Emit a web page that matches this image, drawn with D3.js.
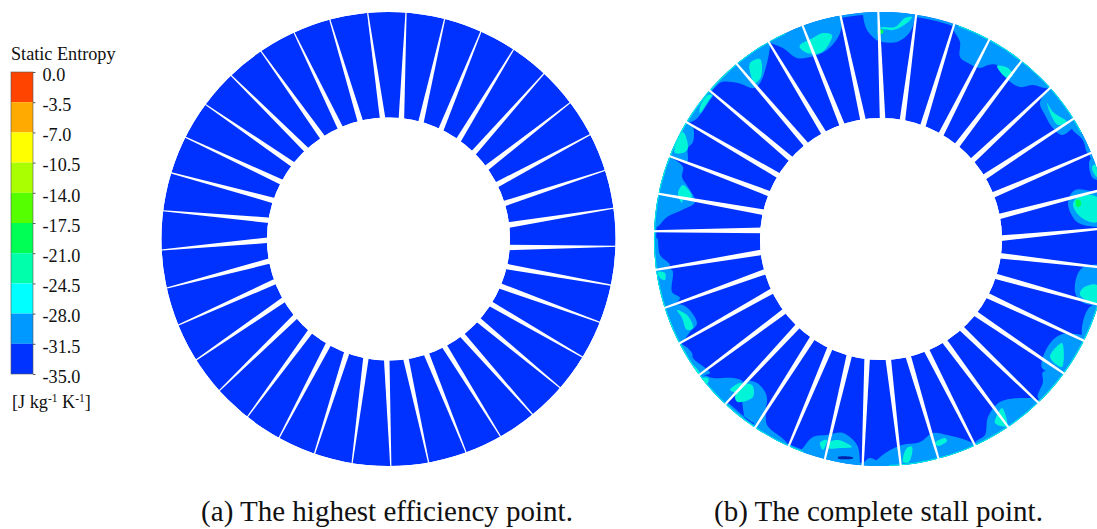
<!DOCTYPE html>
<html>
<head>
<meta charset="utf-8">
<script src="https://d3js.org/d3.v7.min.js"></script>
<style>
  html, body { margin: 0; padding: 0; background: #fff; }
  svg { display: block; font-family: "Liberation Serif", serif; }
</style>
</head>
<body>
<div id="chart"></div>
<script>
// Legend
const legendTicks = [0, -3.5, -7, -10.5, -14, -17.5, -21, -24.5, -28, -31.5, -35];
const legendColors = ['#0033ff', '#0099ff', '#00ffff', '#00ffaa', '#00ff55', '#55ff00', '#aaff00', '#ffff00', '#ffaa00', '#ff4400'];

const captions = ['(a) The highest efficiency point.', '(b) The complete stall point.'];

// Slit angles in degrees, clockwise from the top (outer rim end, hub end)
const leftOuter = [4.4, 14.3, 24, 33.4, 43.2, 53.1, 62.6, 72.4, 82.2, 91.8, 101.7, 111.5, 121.3, 130.9, 140.6, 150.4, 160, 169.8, 179.4, 189.2, 199, 208.8, 218.4, 228.1, 237.8, 247.7, 257.5, 267.2, 277.1, 286.9, 296.6, 306.3, 316.1, 325.8, 335.4, 345, 354.7];
const leftInner = [6.2, 15.6, 25.7, 35.4, 44.7, 54.1, 63.4, 73, 83.4, 94.1, 103.2, 112.9, 122.5, 132.1, 142.6, 152.5, 161.8, 171.8, 180.9, 190.8, 200.2, 209.8, 220.3, 230.3, 240, 249.5, 259.6, 269.5, 279, 288.6, 298.1, 308, 317.4, 327.1, 336.6, 346.6, 357.3];
const rightOuter = [-0.7, 8.9, 18.8, 28.5, 38.3, 48.2, 58, 67.7, 77.4, 87.2, 97.3, 106.8, 116.6, 126.3, 136.1, 145.9, 155.5, 165.3, 175, 184.6, 194.3, 204, 213.7, 223.3, 233.2, 242.6, 252.3, 262.2, 271.9, 281.5, 291.4, 301, 310.9, 320.5, 330.3, 339.8, 349.7];
const rightInner = [0.8, 10.3, 20.4, 29.9, 39.1, 49.4, 59.1, 68.6, 79.3, 89.7, 98, 108.1, 118.1, 128.4, 138.1, 148.2, 157.8, 167, 176.6, 186.7, 195.3, 205.1, 214.7, 223.7, 233.2, 244.5, 254.3, 263.7, 274.2, 282.9, 292.1, 301.8, 311.6, 321.6, 331.7, 341.2, 351.5];

// Contour patches on the stall ring, outlines read as offsets from the ring centre
const lightPatches = [
  [[-18,-232],[-18,-224],[-14,-209],[-3,-198],[1,-197],[16,-197],[29,-207],[34,-222],[34,-232]],
  [[-115,-205],[-111,-197],[-98,-191],[-84,-181],[-71,-182],[-54,-189],[-41,-206],[-41,-225],[-76,-224]],
  [[-141,-172],[-128,-151],[-121,-156],[-114,-176],[-111,-192],[-110,-205],[-150,-180]],
  [[-172,-147],[-168,-151],[-159,-157],[-143,-156],[-128,-151],[-140,-172],[-150,-182]],
  [[-193,-117],[-186,-119],[-181,-124],[-171,-139],[-168,-144],[-178,-150],[-200,-125]],
  [[-209,-82],[-194,-77],[-193,-91],[-188,-97],[-188,-112],[-193,-117],[-205,-120],[-220,-90]],
  [[-209,-81],[-198,-72],[-199,-62],[-193,-52],[-186,-37],[-199,-29],[-214,-22],[-224,-12],[-235,-10],[-235,-50],[-220,-85]],
  [[72,-212],[79,-197],[79,-182],[87,-176],[99,-171],[107,-174],[116,-174],[127,-159],[139,-152],[152,-154],[167,-151],[175,-160],[140,-190],[110,-210],[80,-222]],
  [[167,-149],[159,-136],[164,-124],[171,-112],[181,-104],[192,-111],[205,-120],[180,-160]],
  [[191,-111],[202,-99],[207,-86],[220,-90],[205,-120]],
  [[209,-79],[211,-62],[216,-59],[235,-60],[225,-85]],
  [[216,-47],[194,-49],[187,-36],[196,-17],[216,-12],[235,-12],[235,-47]],
  [[201,29],[194,53],[201,63],[216,66],[235,60],[235,30]],
  [[202,99],[204,76],[212,66],[230,70],[215,105]],
  [[202,96],[179,96],[166,109],[161,129],[179,134],[195,130],[215,100]],
  [[181,134],[162,133],[162,143],[157,159],[175,165],[195,135]],
  [[156,161],[146,159],[119,163],[107,178],[104,196],[94,204],[100,220],[165,175]],
  [[94,206],[66,196],[52,194],[39,203],[21,206],[6,213],[-8,226],[-8,235],[100,222]],
  [[-224,-1],[-221,16],[-211,26],[-224,29],[-235,20]],
  [[-224,31],[-209,31],[-209,53],[-201,59],[-214,68],[-235,60]],
  [[-214,69],[-198,66],[-184,84],[-191,93],[-201,104],[-225,100]],
  [[-199,106],[-189,114],[-188,119],[-171,134],[-181,136],[-205,130]],
  [[-179,136],[-168,139],[-148,139],[-138,143],[-154,164],[-165,175],[-190,145]],
  [[-138,143],[-124,144],[-114,159],[-124,184],[-154,164],[-135,200]],
  [[-116,171],[-114,186],[-93,206],[-95,225],[-130,195]],
  [[-78,209],[-68,198],[-54,196],[-38,194],[-24,206],[-21,224],[-21,235],[-90,225]],
  [[-18,226],[-11,219],[-1,226],[-10,235]]
];
const cyanPatches = [
  [[-1,-211],[12,-209],[26,-216],[31,-222],[24,-221],[14,-212],[2,-212]],
  [[-81,-194],[-70,-200],[-58,-206],[-49,-204],[-54,-192],[-61,-186],[-74,-186],[-81,-191]],
  [[-131,-176],[-121,-180],[-120,-162],[-126,-156],[-131,-167]],
  [[-181,-126],[-174,-136],[-169,-144],[-173,-144],[-181,-132]],
  [[-206,-92],[-198,-107],[-193,-92],[-196,-87],[-206,-86]],
  [[-203,-46],[-198,-54],[-189,-42],[-198,-39],[-199,-36]],
  [[116,-173],[127,-171],[132,-164],[126,-161]],
  [[166,-136],[172,-127],[186,-117],[177,-114],[171,-122]],
  [[211,-72],[216,-62],[219,-76]],
  [[216,-42],[197,-42],[192,-34],[201,-21],[216,-17]],
  [[216,46],[202,49],[199,56],[216,64]],
  [[181,104],[169,118],[181,128]],
  [[114,184],[121,169],[126,187]],
  [[54,204],[64,199],[66,202],[57,207]],
  [[22,223],[26,209],[31,208],[28,223]],
  [[-223,33],[-216,34],[-216,41],[-221,39]],
  [[-204,71],[-194,76],[-188,89],[-194,91],[-199,79]],
  [[-188,126],[-181,134],[-186,133]],
  [[-178,139],[-173,139],[-173,144],[-176,144]],
  [[-151,151],[-141,144],[-136,146],[-144,153]],
  [[-139,146],[-129,146],[-128,158],[-143,163],[-146,159]],
  [[-61,204],[-54,201],[-58,211]],
  [[-53,204],[-43,201],[-29,208],[-41,209],[-53,209]]
];
const greenPatches = [
  [[195,-39],[199,-39],[200,-34],[196,-32]],
  [[-3,-209],[2,-209],[2,-206],[-3,-205]]
];
const darkPatches = [
  [[-43,218],[-28,218.5],[-28,219.5],[-43,219.5]]
];

// Rim bands on the stall ring: start and end angle in degrees
const rimLight = [[0, 360]];
const rimCyan = [[20, 62], [75, 178], [200, 335]];

const width = 1097, height = 529;
const outerR = 227;
const rings = [
  { cx: 388.5, cy: 239, innerR: 121.5, outer: leftOuter, inner: leftInner, hubW: 5.6, rimW: 1.1 },
  { cx: 881, cy: 239, innerR: 121, outer: rightOuter, inner: rightInner, hubW: 5.6, rimW: 2,
    light: lightPatches, cyan: cyanPatches, green: greenPatches, dark: darkPatches }
];

const svg = d3.select('#chart').append('svg')
  .attr('width', width)
  .attr('height', height)
  .attr('viewBox', `0 0 ${width} ${height}`);

const defs = svg.append('defs');
defs.append('filter').attr('id', 'soft')
  .attr('x', '-5%').attr('y', '-5%').attr('width', '110%').attr('height', '110%')
  .append('feGaussianBlur').attr('stdDeviation', 0.45);

const bandColor = d3.scaleThreshold()
  .domain(legendTicks.slice(1, -1).reverse())
  .range(legendColors);

const rad = d3.scaleLinear().domain([0, 180]).range([0, Math.PI]);
const blob = d3.line().curve(d3.curveCatmullRomClosed.alpha(0.5));

rings.forEach((ring, i) => {
  const x = d3.scaleLinear().domain([-outerR, outerR]).range([ring.cx - outerR, ring.cx + outerR]);
  const y = d3.scaleLinear().domain([-outerR, outerR]).range([ring.cy - outerR, ring.cy + outerR]);
  const annulus = d3.arc()
    .innerRadius(ring.innerR)
    .outerRadius(outerR)
    .startAngle(0)
    .endAngle(2 * Math.PI);

  defs.append('clipPath').attr('id', `ring-${i}`)
    .append('path')
    .attr('transform', `translate(${ring.cx},${ring.cy})`)
    .attr('d', annulus());

  const g = svg.append('g').attr('filter', 'url(#soft)');
  const body = g.append('g').attr('clip-path', `url(#ring-${i})`);

  body.append('path')
    .attr('transform', `translate(${ring.cx},${ring.cy})`)
    .attr('d', annulus())
    .attr('fill', bandColor(-33));

  const toPath = pts => blob(pts.map(p => [x(p[0]), y(p[1])]));

  // Contour bands, lowest level first
  if (ring.light) {
    const rimArc = (w) => d3.arc()
      .innerRadius(outerR - w)
      .outerRadius(outerR + 2)
      .startAngle(d => rad(d[0]))
      .endAngle(d => rad(d[1]));

    body.append('g').selectAll('path').data(ring.light).join('path')
      .attr('d', toPath).attr('fill', bandColor(-30));
    body.append('g').selectAll('path').data(rimLight).join('path')
      .attr('transform', `translate(${ring.cx},${ring.cy})`)
      .attr('d', rimArc(2.2)).attr('fill', bandColor(-30));
    body.append('g').selectAll('path').data(ring.cyan).join('path')
      .attr('d', toPath).attr('fill', '#00f5d8');
    body.append('g').selectAll('path').data(rimCyan).join('path')
      .attr('transform', `translate(${ring.cx},${ring.cy})`)
      .attr('d', rimArc(0.9)).attr('fill', '#00f5d8');
    body.append('g').selectAll('path').data(ring.green).join('path')
      .attr('d', toPath).attr('fill', bandColor(-19));
    body.append('g').selectAll('path').data(ring.dark).join('path')
      .attr('d', toPath).attr('fill', '#0022aa');
  }

  // White slits between the blades, tapered from hub to rim
  const slit = (a, b) => {
    const ao = rad(a), ai = rad(b);
    const ro = outerR + 3, ri = ring.innerR - 3;
    const ox = ro * Math.sin(ao), oy = -ro * Math.cos(ao);
    const ix = ri * Math.sin(ai), iy = -ri * Math.cos(ai);
    const len = Math.hypot(ox - ix, oy - iy);
    const nx = -(oy - iy) / len, ny = (ox - ix) / len;
    const pts = [
      [ox + nx * ring.rimW / 2, oy + ny * ring.rimW / 2],
      [ox - nx * ring.rimW / 2, oy - ny * ring.rimW / 2],
      [ix - nx * ring.hubW / 2, iy - ny * ring.hubW / 2],
      [ix + nx * ring.hubW / 2, iy + ny * ring.hubW / 2]
    ];
    return d3.line()(pts.map(p => [x(p[0]), y(p[1])])) + 'Z';
  };

  g.append('g').selectAll('path')
    .data(ring.outer)
    .join('path')
    .attr('d', (d, k) => slit(d, ring.inner[k]))
    .attr('fill', '#fff');
});

// Legend colour bar
const legendY = d3.scaleLinear().domain([0, -35]).range([72, 374]);
const legend = svg.append('g');

legend.selectAll('rect')
  .data(d3.pairs(legendTicks))
  .join('rect')
  .attr('x', 11)
  .attr('width', 22)
  .attr('y', d => legendY(d[0]))
  .attr('height', d => legendY(d[1]) - legendY(d[0]))
  .attr('fill', d => bandColor((d[0] + d[1]) / 2));

legend.append('rect')
  .attr('x', 11).attr('y', 72).attr('width', 22).attr('height', 302)
  .attr('fill', 'none').attr('stroke', '#555').attr('stroke-width', 0.6);

const legendAxis = svg.append('g')
  .attr('transform', 'translate(33,0)')
  .call(d3.axisRight(legendY)
    .tickValues(legendTicks)
    .tickSize(2.5)
    .tickPadding(7)
    .tickFormat(d => d.toFixed(1)));

legendAxis.select('.domain').remove();
legendAxis.selectAll('line').attr('stroke', '#333').attr('stroke-width', 0.8);
legendAxis.selectAll('text')
  .attr('dy', '0.46em')
  .attr('font-family', '"Liberation Serif", serif')
  .attr('font-size', 18.2)
  .attr('fill', '#111');

svg.append('text')
  .attr('x', 11).attr('y', 60)
  .attr('font-size', 18.2)
  .attr('fill', '#111')
  .text('Static Entropy');

const unit = svg.append('text')
  .attr('x', 12).attr('y', 408)
  .attr('font-size', 18.2)
  .attr('fill', '#111');
unit.append('tspan').text('[J kg');
unit.append('tspan').attr('dy', -6).attr('font-size', 11.5).text('-1');
unit.append('tspan').attr('dy', 6).text(' K');
unit.append('tspan').attr('dy', -6).attr('font-size', 11.5).text('-1');
unit.append('tspan').attr('dy', 6).text(']');

// Captions
svg.selectAll('.caption')
  .data(captions)
  .join('text')
  .attr('class', 'caption')
  .attr('x', (d, i) => [387, 878.5][i])
  .attr('y', 521)
  .attr('text-anchor', 'middle')
  .attr('font-size', 29)
  .attr('fill', '#111')
  .text(d => d);
</script>
</body>
</html>
